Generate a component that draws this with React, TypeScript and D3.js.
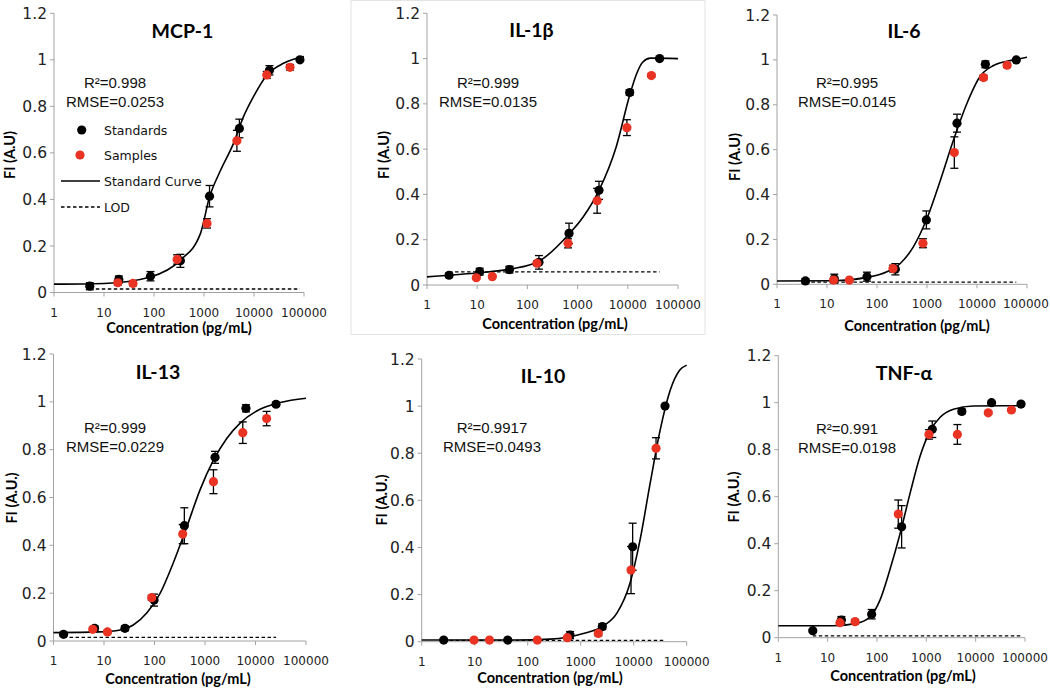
import React from "react";
import * as d3 from "d3";

// ---- data ----
const panelTitles = ["MCP-1", "IL-1β", "IL-6", "IL-13", "IL-10", "TNF-α"];
const r2Labels = ["R²=0.998", "R²=0.999", "R²=0.995", "R²=0.999", "R²=0.9917", "R²=0.991"];
const rmseLabels = ["RMSE=0.0253", "RMSE=0.0135", "RMSE=0.0145", "RMSE=0.0229", "RMSE=0.0493", "RMSE=0.0198"];
const yTitles = ["FI (A.U)", "FI (A.U)", "FI (A.U)", "FI (A.U.)", "FI (A.U.)", "FI (A.U.)"];
const xTitle = "Concentration (pg/mL)";
const xTicks = [1, 10, 100, 1000, 10000, 100000];
const yTicks = [0, 0.2, 0.4, 0.6, 0.8, 1, 1.2];
const legendLabels = ["Standards", "Samples", "Standard Curve", "LOD"];

// MCP-1
const mcpStdConc = [5.2, 19.8, 85, 337, 1290, 5100, 20400, 83000];
const mcpStdFI = [0.027, 0.056, 0.07, 0.136, 0.414, 0.705, 0.955, 1.0];
const mcpStdErr = [0.015, 0.015, 0.02, 0.028, 0.046, 0.04, 0.02, 0.005];
const mcpSmpConc = [18.9, 38, 290, 1150, 4550, 18000, 52500];
const mcpSmpFI = [0.042, 0.039, 0.142, 0.297, 0.652, 0.935, 0.968];
const mcpSmpErr = [0.01, 0.01, 0.02, 0.02, 0.045, 0.015, 0.012];
const mcpCurveConc = [1, 10, 85, 337, 851, 1288, 2089, 3890, 6166, 9772, 18197, 38905, 100000];
const mcpCurveFI = [0.036, 0.039, 0.067, 0.139, 0.254, 0.41, 0.52, 0.641, 0.756, 0.842, 0.935, 0.985, 1.014];
const mcpLod = [5.2, 83000, 0.015];

// IL-1β
const il1StdConc = [2.75, 11.2, 44, 170, 675, 2670, 10900, 43000];
const il1StdFI = [0.043, 0.059, 0.068, 0.1, 0.228, 0.418, 0.85, 1.0];
const il1StdErr = [0.01, 0.015, 0.015, 0.03, 0.045, 0.04, 0.012, 0.004];
const il1SmpConc = [9.6, 20, 155, 645, 2450, 9600, 29500];
const il1SmpFI = [0.032, 0.037, 0.096, 0.184, 0.372, 0.695, 0.925];
const il1SmpErr = [0.005, 0.005, 0.01, 0.02, 0.055, 0.035, 0.006];
const il1CurveConc = [1, 9.5, 45, 170, 676, 1288, 2692, 5888, 10965, 14791, 19953, 28184, 100000];
const il1CurveFI = [0.036, 0.053, 0.07, 0.105, 0.225, 0.3, 0.42, 0.611, 0.84, 0.93, 0.985, 1.002, 1.0];
const il1Lod = [2.75, 43000, 0.058];

// IL-6
const il6StdConc = [3.7, 14, 63, 233, 970, 3980, 14700, 61000];
const il6StdFI = [0.015, 0.025, 0.034, 0.067, 0.287, 0.718, 0.98, 1.0];
const il6StdErr = [0.01, 0.02, 0.02, 0.025, 0.04, 0.04, 0.015, 0.005];
const il6SmpConc = [13.6, 28, 209, 830, 3520, 13500, 40000];
const il6SmpFI = [0.019, 0.019, 0.07, 0.183, 0.587, 0.921, 0.976];
const il6SmpErr = [0.005, 0.005, 0.015, 0.02, 0.07, 0.01, 0.01];
const il6CurveConc = [1, 13.5, 63, 158, 295, 537, 1000, 1862, 3388, 6310, 11749, 21380, 53703, 100000];
const il6CurveFI = [0.015, 0.016, 0.031, 0.056, 0.094, 0.168, 0.294, 0.465, 0.643, 0.807, 0.929, 0.975, 1.0, 1.012];
const il6Lod = [3.7, 61000, 0.01];

// IL-13
const il13StdConc = [1.58, 6.5, 26, 98, 390, 1580, 6470, 25500];
const il13StdFI = [0.028, 0.053, 0.053, 0.171, 0.482, 0.768, 0.973, 0.99];
const il13StdErr = [0.008, 0.01, 0.01, 0.025, 0.075, 0.025, 0.015, 0.008];
const il13SmpConc = [6, 11.7, 88, 362, 1470, 5600, 16600];
const il13SmpFI = [0.049, 0.038, 0.181, 0.447, 0.666, 0.871, 0.93];
const il13SmpErr = [0.008, 0.006, 0.01, 0.04, 0.05, 0.045, 0.03];
const il13CurveConc = [1, 8.3, 20.9, 38, 70.8, 129, 234, 437, 794, 1479, 2692, 4898, 12303, 30903, 100000];
const il13CurveFI = [0.035, 0.038, 0.046, 0.067, 0.118, 0.199, 0.325, 0.478, 0.631, 0.757, 0.847, 0.91, 0.969, 0.997, 1.015];
const il13Lod = [1.58, 25500, 0.015];

// IL-10
const il10StdConc = [2.6, 42, 630, 2560, 9550, 39000];
const il10StdFI = [0.007, 0.007, 0.028, 0.064, 0.403, 1.0];
const il10StdErr = [0, 0, 0.015, 0.012, 0.1, 0];
const il10SmpConc = [9.7, 19, 152, 560, 2150, 8900, 26400];
const il10SmpFI = [0.007, 0.007, 0.007, 0.017, 0.035, 0.304, 0.821];
const il10SmpErr = [0, 0, 0, 0.005, 0.01, 0.1, 0.045];
const il10CurveConc = [1, 62, 263, 1122, 2692, 4786, 8511, 13183, 20417, 31623, 48978, 74131, 100000];
const il10CurveFI = [0.007, 0.007, 0.011, 0.035, 0.067, 0.12, 0.248, 0.432, 0.672, 0.899, 1.068, 1.153, 1.174];
const il10Lod = [2.6, 39000, 0.006];

// TNF-α
const tnfStdConc = [5, 19, 78, 316, 1320, 5240, 21000, 83000];
const tnfStdFI = [0.03, 0.075, 0.1, 0.472, 0.887, 0.963, 1.0, 0.994];
const tnfStdErr = [0.005, 0.015, 0.02, 0.09, 0.035, 0.01, 0.005, 0.005];
const tnfSmpConc = [17.8, 36, 270, 1130, 4260, 18000, 53000];
const tnfSmpFI = [0.064, 0.068, 0.526, 0.865, 0.865, 0.957, 0.969];
const tnfSmpErr = [0.008, 0.01, 0.06, 0.02, 0.042, 0.006, 0.006];
const tnfCurveConc = [1, 12.9, 38.9, 72.4, 115, 182, 295, 468, 741, 1175, 1905, 3548, 8913, 100000];
const tnfCurveFI = [0.051, 0.051, 0.061, 0.089, 0.16, 0.288, 0.444, 0.614, 0.77, 0.877, 0.938, 0.972, 0.986, 0.987];
const tnfLod = [5, 83000, 0.008];

// ---- layout (pixel boxes of each plot) ----
const boxes = [
  { x0: 54, x1: 304, y0: 292.5, y1: 13.3, tx: 182.5, ty: 38, sx: 115, sy: 88, yx: 9.5, yy: 155, cx: 179, cy: 333 },
  { x0: 427, x1: 678, y0: 285, y1: 13.3, tx: 531.5, ty: 37, sx: 488, sy: 88, yx: 383.5, yy: 155, cx: 555, cy: 329 },
  { x0: 777, x1: 1027, y0: 284.3, y1: 15, tx: 904, ty: 38, sx: 847, sy: 88, yx: 735, yy: 157, cx: 917, cy: 331 },
  { x0: 53.5, x1: 306, y0: 641, y1: 354, tx: 158, ty: 379, sx: 115, sy: 433, yx: 11.5, yy: 498, cx: 178, cy: 684 },
  { x0: 421.7, x1: 686.7, y0: 641.7, y1: 359, tx: 543, ty: 383, sx: 492, sy: 433, yx: 381.5, yy: 500, cx: 550, cy: 683 },
  { x0: 778.3, x1: 1025, y0: 637.7, y1: 355.7, tx: 904, ty: 380, sx: 847, sy: 434, yx: 733.5, yy: 497, cx: 903, cy: 681 },
];

const zipPts = (xs: number[], ys: number[], es?: number[]) =>
  xs.map((x, i) => ({ c: x, v: ys[i], e: es ? es[i] : 0 }));

const panels = [
  { std: zipPts(mcpStdConc, mcpStdFI, mcpStdErr), smp: zipPts(mcpSmpConc, mcpSmpFI, mcpSmpErr), curve: zipPts(mcpCurveConc, mcpCurveFI), lod: mcpLod },
  { std: zipPts(il1StdConc, il1StdFI, il1StdErr), smp: zipPts(il1SmpConc, il1SmpFI, il1SmpErr), curve: zipPts(il1CurveConc, il1CurveFI), lod: il1Lod },
  { std: zipPts(il6StdConc, il6StdFI, il6StdErr), smp: zipPts(il6SmpConc, il6SmpFI, il6SmpErr), curve: zipPts(il6CurveConc, il6CurveFI), lod: il6Lod },
  { std: zipPts(il13StdConc, il13StdFI, il13StdErr), smp: zipPts(il13SmpConc, il13SmpFI, il13SmpErr), curve: zipPts(il13CurveConc, il13CurveFI), lod: il13Lod },
  { std: zipPts(il10StdConc, il10StdFI, il10StdErr), smp: zipPts(il10SmpConc, il10SmpFI, il10SmpErr), curve: zipPts(il10CurveConc, il10CurveFI), lod: il10Lod },
  { std: zipPts(tnfStdConc, tnfStdFI, tnfStdErr), smp: zipPts(tnfSmpConc, tnfSmpFI, tnfSmpErr), curve: zipPts(tnfCurveConc, tnfCurveFI), lod: tnfLod },
];

const RED = "#ea3323";
const AXIS = "#a3a3a3";
const tickFont = "'DejaVu Sans', Verdana, sans-serif";
const boldFont = "Lato, 'Open Sans', sans-serif";
const statFont = "'Liberation Sans', Arial, sans-serif";

type Pt = { c: number; v: number; e: number };

function ErrBars({ pts, x, y }: { pts: Pt[]; x: any; y: any }) {
  return (
    <g stroke="#000" strokeWidth={1.3}>
      {pts.filter((p) => p.e > 0.003).map((p, i) => {
        const cx = x(p.c);
        const top = y(p.v + p.e);
        const bot = y(p.v - p.e);
        return (
          <g key={i}>
            <line x1={cx} x2={cx} y1={top} y2={bot} />
            <line x1={cx - 4} x2={cx + 4} y1={top} y2={top} />
            <line x1={cx - 4} x2={cx + 4} y1={bot} y2={bot} />
          </g>
        );
      })}
    </g>
  );
}

function Panel({ idx }: { idx: number }) {
  const b = boxes[idx];
  const d = panels[idx];
  const x = d3.scaleLog().domain([1, 100000]).range([b.x0, b.x1]);
  const y = d3.scaleLinear().domain([0, 1.2]).range([b.y0, b.y1]);
  const line = d3
    .line<Pt>()
    .x((p) => x(p.c))
    .y((p) => y(p.v))
    .curve(d3.curveMonotoneX);

  return (
    <g>
      {/* axes */}
      <line x1={b.x0} x2={b.x1} y1={b.y0} y2={b.y0} stroke={AXIS} strokeWidth={1} />
      <line x1={b.x0} x2={b.x0} y1={b.y0} y2={b.y1} stroke={AXIS} strokeWidth={1} />
      {xTicks.map((t) => (
        <g key={"x" + t}>
          <line x1={x(t)} x2={x(t)} y1={b.y0} y2={b.y0 + 4} stroke={AXIS} />
          <text
            x={Math.min(x(t), 1049 - String(t).length * 3.85)}
            y={b.y0 + 24}
            textAnchor="middle"
            fontFamily={tickFont}
            fontSize={12}
            fill="#222"
          >
            {t}
          </text>
        </g>
      ))}
      {yTicks.map((t) => (
        <g key={"y" + t}>
          <line x1={b.x0 - 4} x2={b.x0} y1={y(t)} y2={y(t)} stroke={AXIS} />
          <text x={b.x0 - 7} y={y(t)} dy="0.36em" textAnchor="end" fontFamily={tickFont} fontSize={15.5} fill="#222">
            {t}
          </text>
        </g>
      ))}

      {/* LOD and fitted curve */}
      <line
        x1={x(d.lod[0])}
        x2={x(d.lod[1])}
        y1={y(d.lod[2])}
        y2={y(d.lod[2])}
        stroke="#000"
        strokeWidth={1.3}
        strokeDasharray="3.5,2.5"
      />
      <path d={line(d.curve) || ""} fill="none" stroke="#000" strokeWidth={1.6} />

      <ErrBars pts={d.std} x={x} y={y} />
      <ErrBars pts={d.smp} x={x} y={y} />
      {d.std.map((p, i) => (
        <circle key={"s" + i} cx={x(p.c)} cy={y(p.v)} r={4.6} fill="#000" />
      ))}
      {d.smp.map((p, i) => (
        <circle key={"r" + i} cx={x(p.c)} cy={y(p.v)} r={4.6} fill={RED} />
      ))}

      {/* labels */}
      <text x={b.tx} y={b.ty} textAnchor="middle" fontFamily={boldFont} fontWeight="bold" fontSize={19.5} fill="#000">
        {panelTitles[idx]}
      </text>
      <text x={b.sx} y={b.sy} textAnchor="middle" fontFamily={statFont} fontSize={15} fill="#111">
        {r2Labels[idx]}
      </text>
      <text x={b.sx} y={b.sy + 19} textAnchor="middle" fontFamily={statFont} fontSize={15} fill="#111">
        {rmseLabels[idx]}
      </text>
      <text
        transform={`translate(${b.yx},${b.yy}) rotate(-90)`}
        textAnchor="middle"
        dy="0.35em"
        fontFamily={boldFont}
        fontWeight="bold"
        fontSize={14.5}
        fill="#000"
      >
        {yTitles[idx]}
      </text>
      <text x={b.cx} y={b.cy} textAnchor="middle" fontFamily={boldFont} fontWeight="bold" fontSize={14.5} fill="#000">
        {xTitle}
      </text>
    </g>
  );
}

function Legend() {
  const rows = [130, 155, 181, 207];
  return (
    <g fontFamily={tickFont} fontSize={12.5} fill="#111">
      <circle cx={81.7} cy={rows[0]} r={4.6} fill="#000" />
      <circle cx={80} cy={rows[1]} r={4.6} fill={RED} />
      <line x1={61} x2={100} y1={rows[2]} y2={rows[2]} stroke="#000" strokeWidth={1.6} />
      <line x1={61} x2={100} y1={rows[3]} y2={rows[3]} stroke="#000" strokeWidth={1.3} strokeDasharray="3.5,2.5" />
      {legendLabels.map((l, i) => (
        <text key={l} x={104} y={rows[i]} dy="0.36em">
          {l}
        </text>
      ))}
    </g>
  );
}

export default function App() {
  return (
    <svg
      width={1050}
      height={690}
      style={{ position: "absolute", left: 0, top: 0, background: "#fff", display: "block" }}
    >
      <rect x={0} y={0} width={1050} height={690} fill="#fff" />
      <rect x={351} y={0.5} width={354} height={334} fill="none" stroke="#e4e4e4" strokeWidth={1} />
      {boxes.map((_, i) => (
        <Panel key={i} idx={i} />
      ))}
      <Legend />
    </svg>
  );
}
